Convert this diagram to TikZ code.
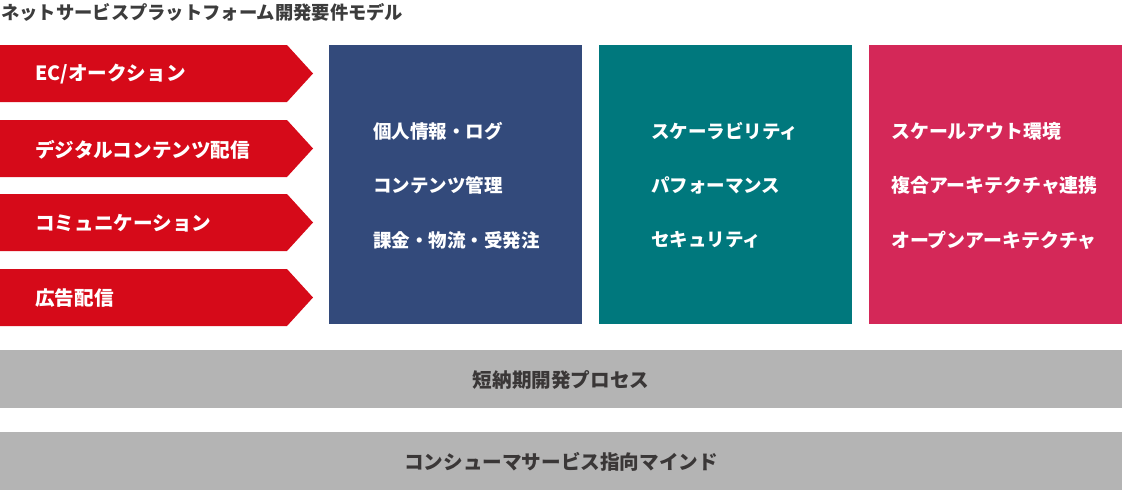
\documentclass[tikz,border=0pt]{standalone}
\usepackage{fontspec}
\setmainfont{Noto Sans CJK JP}
\begin{document}
\begin{tikzpicture}[x=1pt,y=-1pt,
  redc/.style={fill={rgb,255:red,214;green,10;blue,25}},
  lbl/.style={anchor=west,inner sep=0pt,text=white,font=\fontsize{18.5}{20}\selectfont\bfseries},
  redlbl/.style={lbl,font=\fontsize{19.6}{21}\selectfont\bfseries},
  pinklbl/.style={lbl,font=\fontsize{18.9}{21}\selectfont\bfseries},
  graylbl/.style={inner sep=0pt,text={rgb,255:red,58;green,55;blue,55},font=\fontsize{19.6}{21}\selectfont\bfseries},
  colbox/.style={draw=none,minimum width=253pt,minimum height=279pt,inner sep=0pt,anchor=north west},
  graybar/.style={fill={rgb,255:red,180;green,180;blue,180},draw=none,minimum width=1122pt,minimum height=58pt,inner sep=0pt,anchor=north west}
]
\useasboundingbox (0,0) rectangle (1122,490);
% title
\node[anchor=west,inner sep=0pt,text={rgb,255:red,60;green,60;blue,60},font=\fontsize{18.3}{20}\selectfont\bfseries] (title) at (1,12) {ネットサービスプラットフォーム開発要件モデル};
% red arrows
\foreach \t in {45,120,194,269}{
  \fill[redc] (0,\t) -- (287,\t) -- (313,\t+28.5) -- (287,\t+57) -- (0,\t+57) -- cycle;
}
\node[redlbl] (t1) at (35,74) {EC/オークション};
\node[redlbl] (t2) at (35,150) {デジタルコンテンツ配信};
\node[redlbl] (t3) at (35,223) {コミュニケーション};
\node[redlbl] (t4) at (35,298) {広告配信};
% columns
\node[colbox,fill={rgb,255:red,51;green,74;blue,123}] (blue) at (329,45) {};
\node[colbox,fill={rgb,255:red,0;green,120;blue,125}] (teal) at (599,45) {};
\node[colbox,fill={rgb,255:red,212;green,40;blue,88}] (pink) at (869,45) {};
\node[lbl] (b1) at (373,131) {個人情報・ログ};
\node[lbl] (b2) at (373,185) {コンテンツ管理};
\node[lbl] (b3) at (373,240) {課金・物流・受発注};
\node[lbl] (c1) at (651,131) {スケーラビリティ};
\node[lbl] (c2) at (651,185) {パフォーマンス};
\node[lbl] (c3) at (651,240) {セキュリティ};
\node[pinklbl] (p1) at (891,131) {スケールアウト環境};
\node[pinklbl] (p2) at (891,185) {複合アーキテクチャ連携};
\node[pinklbl] (p3) at (891,240) {オープンアーキテクチャ};
% gray bars
\node[graybar] (g1) at (0,350) {};
\node[graybar] (g2) at (0,432) {};
\node[graylbl] (g1t) at (561,380) {短納期開発プロセス};
\node[graylbl] (g2t) at (561,462) {コンシューマサービス指向マインド};
\end{tikzpicture}
\end{document}
